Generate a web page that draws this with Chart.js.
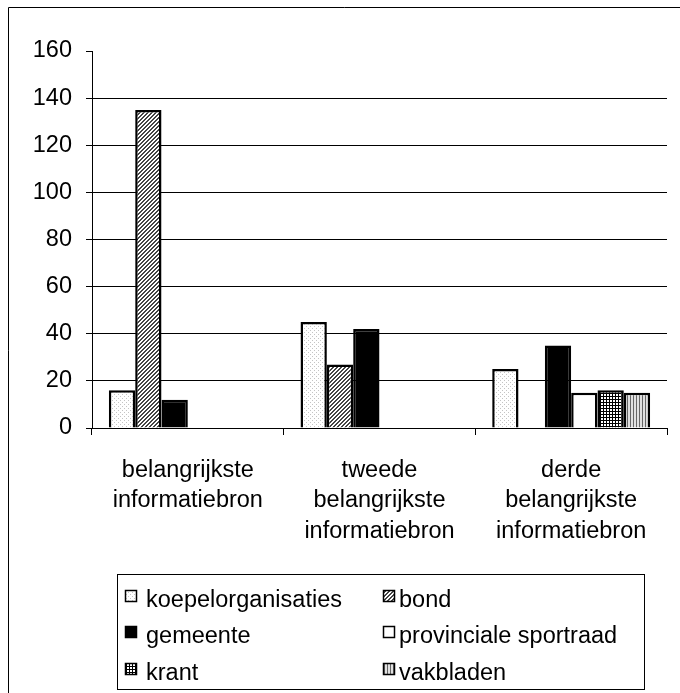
<!DOCTYPE html>
<html>
<head>
<meta charset="utf-8">
<script src="https://cdn.jsdelivr.net/npm/chart.js@4/dist/chart.umd.min.js"></script>
<style>
  html, body { margin: 0; padding: 0; background: #fff; }
  canvas { display: block; }
</style>
</head>
<body>
<canvas id="c" width="680" height="693"></canvas>
<script>
const categories = [
  ["belangrijkste", "informatiebron"],
  ["tweede", "belangrijkste", "informatiebron"],
  ["derde", "belangrijkste", "informatiebron"]
];
const seriesNames = ["koepelorganisaties", "bond", "gemeente", "provinciale sportraad", "krant", "vakbladen"];
const koepelorganisaties = [16, 45, 25];
const bond = [135, 27, null];
const gemeente = [12, 42, 35];
const provincialeSportraad = [null, null, 15];
const krant = [null, null, 16];
const vakbladen = [null, null, 15];
const yMin = 0, yMax = 160, yStep = 20;

const FONT = '"Liberation Sans", Arial, Helvetica, sans-serif';
const FSIZE = 23.5;

function makePattern(w, h, draw) {
  const c = document.createElement('canvas');
  c.width = w; c.height = h;
  const g = c.getContext('2d');
  draw(g);
  return g.createPattern(c, 'repeat');
}
const px = (g, x, y, col) => { g.fillStyle = col; g.fillRect(x, y, 1, 1); };

const patKoepel = makePattern(4, 4, g => {
  g.fillStyle = '#fff'; g.fillRect(0, 0, 4, 4);
  px(g, 0, 0, '#c4c4c4'); px(g, 2, 2, '#c4c4c4');
});
const patBond = makePattern(4, 4, g => {
  g.fillStyle = '#fff'; g.fillRect(0, 0, 4, 4);
  const d = '#444';
  for (let i = 0; i < 4; i++) { px(g, i, 3 - i, d); px(g, (i + 1) % 4, 3 - i, d); }
});
const patKrant = makePattern(3, 3, g => {
  g.fillStyle = '#000'; g.fillRect(0, 0, 3, 3);
  g.fillStyle = '#fff'; g.fillRect(1, 1, 2, 2);
});
const patVak = makePattern(3, 1, g => {
  g.fillStyle = '#e0e0e0'; g.fillRect(0, 0, 3, 1);
  px(g, 0, 0, '#666');
});

const fills = [patKoepel, patBond, '#000', '#fff', patKrant, patVak];
const seriesData = [koepelorganisaties, bond, gemeente, provincialeSportraad, krant, vakbladen];

const datasets = seriesNames.map((name, i) => ({
  label: name,
  data: seriesData[i],
  backgroundColor: fills[i],
  borderColor: '#000',
  borderWidth: 2.5,
  categoryPercentage: 0.824,
  barPercentage: 1.0
}));

const framePlugin = {
  id: 'frameAndLegend',
  afterDraw(chart) {
    const ctx = chart.ctx;
    ctx.save();
    ctx.strokeStyle = '#000';
    ctx.lineWidth = 1;
    ctx.beginPath();
    ctx.moveTo(8.5, 693); ctx.lineTo(8.5, 7.5); ctx.lineTo(680, 7.5);
    ctx.stroke();
    ctx.strokeRect(117.5, 574.5, 527, 115);
    const cols = [{ sx: 125, tx: 146 }, { sx: 383, tx: 399 }];
    const baselines = [607, 643, 680];
    ctx.font = FSIZE + 'px ' + FONT;
    ctx.textBaseline = 'alphabetic';
    ctx.textAlign = 'left';
    chart.data.datasets.forEach((ds, i) => {
      const col = cols[i % 2];
      const by = baselines[Math.floor(i / 2)];
      const top = by - 17;
      ctx.fillStyle = ds.backgroundColor;
      ctx.fillRect(col.sx, top, 12, 12);
      ctx.strokeStyle = '#000';
      ctx.lineWidth = 1.5;
      ctx.strokeRect(col.sx + 0.5, top + 0.5, 11, 11);
      ctx.fillStyle = '#000';
      ctx.fillText(ds.label, col.tx, by);
    });
    ctx.restore();
  }
};

new Chart(document.getElementById('c'), {
  type: 'bar',
  data: { labels: categories, datasets },
  options: {
    responsive: false,
    animation: false,
    devicePixelRatio: 1,
    layout: { padding: { top: 51, right: 13, bottom: 135, left: 0 } },
    plugins: { legend: { display: false }, tooltip: { enabled: false }, title: { display: false } },
    scales: {
      x: {
        grid: { display: true, drawOnChartArea: false, drawTicks: true, tickLength: 7, offset: true, color: '#000', tickColor: '#000' },
        border: { display: true, color: '#000', width: 1 },
        ticks: { color: '#000', font: { size: FSIZE, family: FONT, lineHeight: 1.3 }, padding: 20, maxRotation: 0, autoSkip: false },
        afterFit(s) { s.height = 130; }
      },
      y: {
        min: yMin, max: yMax,
        grid: {
          color: ctx => (ctx.tick && ctx.tick.value === yMax) ? 'rgba(0,0,0,0)' : '#000',
          tickColor: '#000', tickLength: 6, lineWidth: 1
        },
        border: { display: true, color: '#000', width: 1 },
        ticks: { stepSize: yStep, color: '#000', font: { size: FSIZE, family: FONT }, padding: 14 },
        afterFit(s) { s.width = 92; }
      }
    }
  },
  plugins: [framePlugin]
});
</script>
</body>
</html>
